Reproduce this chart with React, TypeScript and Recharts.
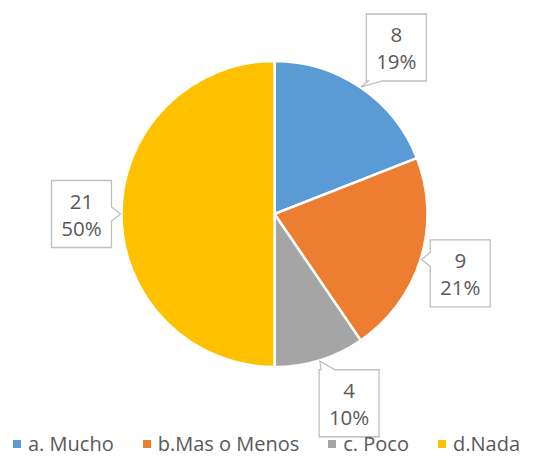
import React from 'react';
import { PieChart, Pie, Cell, Legend } from 'recharts';

const categories = ['a. Mucho', 'b.Mas o Menos', 'c. Poco', 'd.Nada'];
const counts = [8, 9, 4, 21];
const colors = ['#5B9BD5', '#ED7D31', '#A5A5A5', '#FFC000'];

const data = categories.map((name, i) => ({ name, value: counts[i] }));

const FONT = '"Open Sans", "Noto Sans", sans-serif';
const TEXT_COLOR = '#595959';
const RAD = Math.PI / 180;
const BOX_W = 60;
const BOX_H = 67;
const clamp = (v: number, a: number, b: number) => Math.max(a, Math.min(b, v));

function CalloutLabel(props: any) {
  const { cx, cy, midAngle, outerRadius, value, percent } = props;
  const ux = Math.cos(midAngle * RAD);
  const uy = -Math.sin(midAngle * RAD);
  const ax = cx + (outerRadius + 10) * ux;
  const ay = cy + (outerRadius + 10) * uy;
  const hw = BOX_W / 2;
  const hh = BOX_H / 2;
  const bcx = ax + hw * clamp(3 * ux, -1, 1);
  const bcy = ay + hh * clamp(1.15 * uy, -1, 1);
  const x0 = bcx - hw, x1 = bcx + hw, y0 = bcy - hh, y1 = bcy + hh;
  const tx = cx + (outerRadius + 1) * ux;
  const ty = cy + (outerRadius + 1) * uy;
  const ndx = (tx - bcx) / hw;
  const ndy = (ty - bcy) / hh;
  let edge: string;
  if (Math.abs(ndx) > Math.abs(ndy)) edge = ndx < 0 ? 'left' : 'right';
  else edge = ndy < 0 ? 'top' : 'bottom';
  const bw = 7;
  const bx = clamp(tx, x0 + 9, x1 - 9);
  const by = clamp(ty, y0 + 9, y1 - 9);
  let d = `M${x0},${y0}`;
  if (edge === 'top') d += ` L${bx - bw},${y0} L${tx},${ty} L${bx + bw},${y0}`;
  d += ` L${x1},${y0}`;
  if (edge === 'right') d += ` L${x1},${by - bw} L${tx},${ty} L${x1},${by + bw}`;
  d += ` L${x1},${y1}`;
  if (edge === 'bottom') d += ` L${bx + bw},${y1} L${tx},${ty} L${bx - bw},${y1}`;
  d += ` L${x0},${y1}`;
  if (edge === 'left') d += ` L${x0},${by + bw} L${tx},${ty} L${x0},${by - bw}`;
  d += ' Z';
  return (
    <g>
      <path d={d} fill="#fff" stroke="#BFBFBF" strokeWidth={1.3} />
      <text x={bcx} y={y0 + 20} textAnchor="middle" dominantBaseline="central"
        fontFamily={FONT} fontSize={20.5} fill={TEXT_COLOR}>{value}</text>
      <text x={bcx} y={y0 + 47} textAnchor="middle" dominantBaseline="central"
        fontFamily={FONT} fontSize={20.5} fill={TEXT_COLOR}>{`${Math.round(percent * 100)}%`}</text>
    </g>
  );
}

function LegendContent() {
  return (
    <div style={{ display: 'flex', justifyContent: 'center', alignItems: 'center', height: 26, fontFamily: FONT, fontSize: 20, color: TEXT_COLOR, whiteSpace: 'nowrap' }}>
      {categories.map((c, i) => (
        <div key={c} style={{ display: 'flex', alignItems: 'center', marginRight: i < categories.length - 1 ? 29 : 0 }}>
          <span style={{ display: 'inline-block', width: 8, height: 8, background: colors[i], marginRight: 7 }} />
          <span style={{ lineHeight: '26px' }}>{c}</span>
        </div>
      ))}
    </div>
  );
}

export default function App() {
  return (
    <div style={{ position: 'absolute', left: 0, top: 0, width: 551, height: 460, background: '#fff' }}>
      <PieChart width={551} height={460} margin={{ top: 0, right: 0, bottom: 0, left: 0 }}>
        <Pie
          data={data}
          dataKey="value"
          nameKey="name"
          cx={274.5}
          cy={214}
          outerRadius={153}
          startAngle={90}
          endAngle={-270}
          stroke="#fff"
          strokeWidth={2.5}
          labelLine={false}
          label={CalloutLabel}
          isAnimationActive={false}
        >
          {data.map((d, i) => (
            <Cell key={d.name} fill={colors[i]} />
          ))}
        </Pie>
        <Legend content={LegendContent} wrapperStyle={{ top: 431, left: -9, width: 551 }} />
      </PieChart>
    </div>
  );
}
